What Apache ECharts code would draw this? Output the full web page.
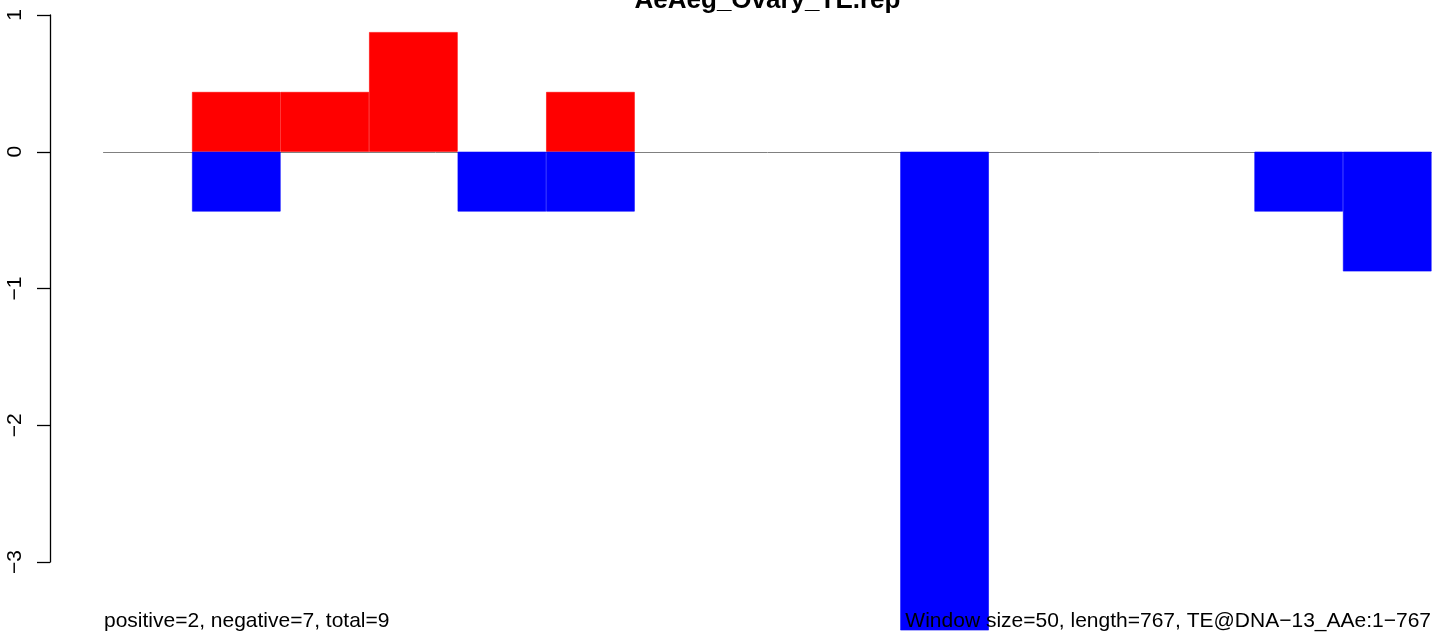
<!DOCTYPE html>
<html>
<head>
<meta charset="utf-8">
<script src="https://cdn.jsdelivr.net/npm/echarts@6/dist/echarts.min.js"></script>
<style>
html, body { margin: 0; padding: 0; background: #fff; }
#main { width: 1444px; height: 641px; }
</style>
</head>
<body>
<div id="main"></div>
<script>
// windows of 50 bp along TE@DNA-13_AAe (length 767) -> 15 windows
var windows = ['1', '2', '3', '4', '5', '6', '7', '8', '9', '10', '11', '12', '13', '14', '15'];
// positive strand (red); null = no bar in that window
var posValues = [null, 0.437, 0.437, 0.875, null, 0.437, null, null, null, null, null, null, null, null, null];
// negative strand (blue)
var negValues = [null, -0.437, null, null, -0.437, -0.437, null, null, null, -3.5, null, null, null, -0.437, -0.875];
var yTicks = [-3, -2, -1, 0, 1];

var chartTitle = 'AeAeg_Ovary_TE.rep';
var leftNote = 'positive=2, negative=7, total=9';
var rightNote = 'Window size=50, length=767, TE@DNA\u221213_AAe:1\u2212767';

var font = '"Liberation Sans", Arial, Helvetica, sans-serif';

var chart = echarts.init(document.getElementById('main'));

var option = {
    animation: false,
    grid: { left: 103.5, right: 12.5, top: 15, bottom: 79 },
    xAxis: {
        type: 'category',
        data: windows,
        boundaryGap: true,
        axisLine: { show: true, onZero: true, lineStyle: { color: '#808080', width: 1 } },
        axisTick: { show: false },
        axisLabel: { show: false },
        splitLine: { show: false }
    },
    yAxis: {
        type: 'value',
        min: yTicks[0],
        max: yTicks[yTicks.length - 1],
        interval: 1,
        offset: 53.5,
        axisLine: { show: true, lineStyle: { color: '#000', width: 1.3 } },
        axisTick: { show: true, length: 13, lineStyle: { color: '#000', width: 1.3 } },
        axisLabel: {
            rotate: 90,
            margin: 24,
            color: '#000',
            fontSize: 21,
            fontFamily: font,
            formatter: function (v) { return String(v).replace('-', '\u2212'); }
        },
        splitLine: { show: false }
    },
    series: [
        {
            type: 'bar',
            data: posValues,
            barWidth: '100%',
            barGap: '-100%',
            clip: false,
            itemStyle: { color: '#ff0000', borderColor: '#ff0000', borderWidth: 0.6 }
        },
        {
            type: 'bar',
            data: negValues,
            barWidth: '100%',
            barGap: '-100%',
            clip: false,
            itemStyle: { color: '#0000ff', borderColor: '#0000ff', borderWidth: 0.6 }
        }
    ],
    graphic: [
        {
            type: 'text', x: 767.5, y: -12, z: 100,
            style: { text: chartTitle, font: 'bold 26px ' + font, fill: '#000', align: 'center', verticalAlign: 'top' }
        },
        {
            type: 'text', x: 104, y: 621, z: 100,
            style: { text: leftNote, font: '21px ' + font, fill: '#000', verticalAlign: 'middle', align: 'left' }
        },
        {
            type: 'text', x: 1431, y: 621, z: 100,
            style: { text: rightNote, font: '21px ' + font, fill: '#000', verticalAlign: 'middle', align: 'right' }
        }
    ]
};
chart.setOption(option);
</script>
</body>
</html>
